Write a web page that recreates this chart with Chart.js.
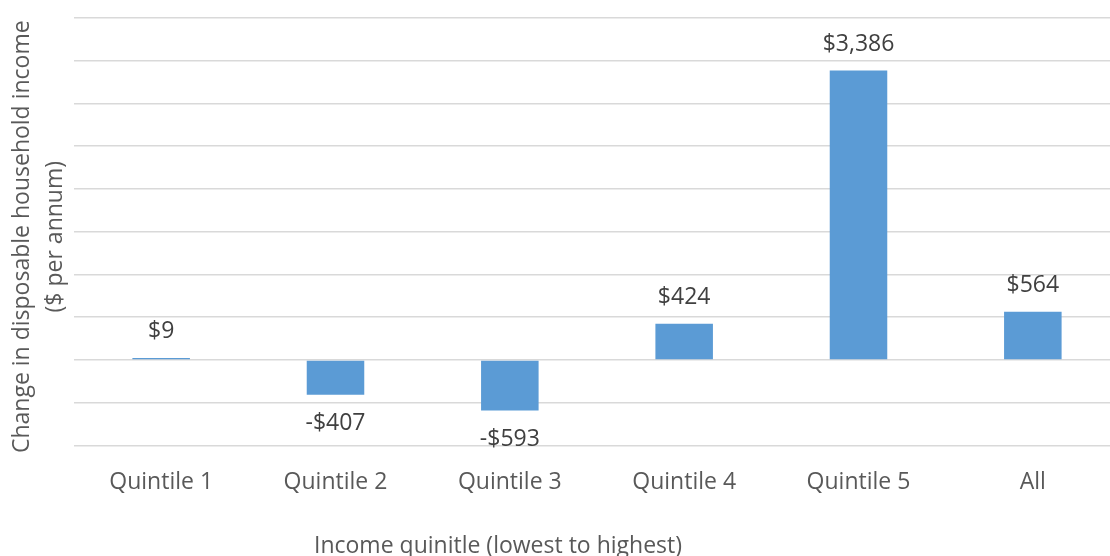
<!DOCTYPE html>
<html>
<head>
<meta charset="utf-8">
<script src="https://cdn.jsdelivr.net/npm/chart.js@4"></script>
<style>
  html, body { margin: 0; padding: 0; background: #fff; overflow: hidden; }
  #wrap { position: relative; width: 1120px; height: 556px; }
</style>
</head>
<body>
<div id="wrap"><canvas id="chart"></canvas></div>
<script>
(function () {
  'use strict';

  var categories = ['Quintile 1', 'Quintile 2', 'Quintile 3', 'Quintile 4', 'Quintile 5', 'All'];
  var changeValues = [9, -407, -593, 424, 3386, 564];
  var yTitleLines = ['Change in disposable household income', '($ per annum)'];
  var xTitle = 'Income quinitle (lowest to highest)';

  var FONT = "'Open Sans', sans-serif";
  var SIZE = 23;
  var BAR = '#5b9bd5';

  function money(v) {
    var s = '$' + Math.abs(v).toLocaleString('en-US');
    return v < 0 ? '-' + s : s;
  }

  // --- Value labels above/below bars ---
  var valueLabels = {
    id: 'valueLabels',
    afterDatasetsDraw: function (chart) {
      var ctx = chart.ctx;
      var meta = chart.getDatasetMeta(0);
      ctx.save();
      ctx.font = SIZE + 'px ' + FONT;
      ctx.fillStyle = '#404040';
      ctx.textAlign = 'center';
      ctx.textBaseline = 'middle';
      meta.data.forEach(function (bar, i) {
        var v = changeValues[i];
        var y = v >= 0 ? bar.y - 26 : bar.y + 29;
        ctx.fillText(money(v), bar.x, y);
      });
      ctx.restore();
    }
  };

  // --- Axis titles ---
  var axisTitles = {
    id: 'axisTitles',
    afterDraw: function (chart) {
      var ctx = chart.ctx;
      var area = chart.chartArea;
      ctx.save();
      ctx.font = SIZE + 'px ' + FONT;
      ctx.fillStyle = '#595959';
      ctx.textAlign = 'center';
      ctx.textBaseline = 'middle';
      ctx.fillText(xTitle, 498, 546);

      var cy = (area.top + area.bottom) / 2 + 5;
      ctx.translate(22, cy);
      ctx.rotate(-Math.PI / 2);
      ctx.fillText(yTitleLines[0], 0, 0);
      ctx.fillText(yTitleLines[1], 0, 33);
      ctx.restore();
    }
  };

  new Chart(document.getElementById('chart'), {
    type: 'bar',
    data: {
      labels: categories,
      datasets: [{
        data: changeValues,
        backgroundColor: BAR,
        borderWidth: 0,
        minBarLength: 2,
        barPercentage: 0.33,
        categoryPercentage: 1
      }]
    },
    options: {
      responsive: true,
      maintainAspectRatio: false,
      animation: false,
      layout: { padding: { left: 74, top: 18, right: 0, bottom: 37 } },
      plugins: {
        legend: { display: false },
        tooltip: { enabled: false }
      },
      scales: {
        x: {
          grid: { display: false, drawTicks: false },
          border: { display: false },
          ticks: {
            padding: 23,
            color: '#595959',
            font: { family: FONT, size: SIZE }
          }
        },
        y: {
          min: -1000,
          max: 4000,
          ticks: { display: false, stepSize: 500 },
          grid: { color: '#d9d9d9', lineWidth: 1.5, drawTicks: false },
          border: { display: false }
        }
      }
    },
    plugins: [valueLabels, axisTitles]
  });
})();
</script>
</body>
</html>
